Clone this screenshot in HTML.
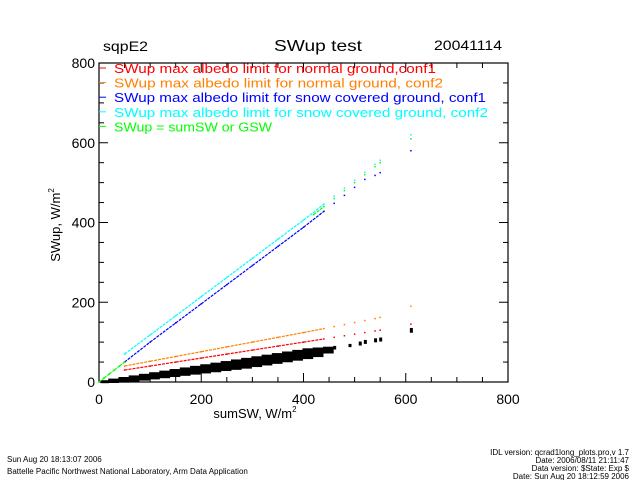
<!DOCTYPE html>
<html><head><meta charset="utf-8"><style>
html,body{margin:0;padding:0;background:#fff}
svg{display:block;font-family:"Liberation Sans",sans-serif}
</style></head><body>
<svg id="chart" width="640" height="480" viewBox="0 0 640 480">
<rect x="0" y="0" width="640" height="480" fill="#fff"/>
<text x="103" y="51" font-size="14" textLength="45" lengthAdjust="spacingAndGlyphs">sqpE2</text>
<text x="318" y="51" font-size="16" text-anchor="middle" textLength="88" lengthAdjust="spacingAndGlyphs">SWup test</text>
<text x="502" y="50" font-size="14" text-anchor="end" textLength="68" lengthAdjust="spacingAndGlyphs">20041114</text>
<g id="plot"></g>
<g id="legend"></g>
<text x="255" y="418" font-size="13" text-anchor="middle">sumSW, W/m<tspan font-size="8" dy="-6">2</tspan></text>
<text transform="translate(60,225) rotate(-90)" font-size="13" text-anchor="middle">SWup, W/m<tspan font-size="8" dy="-6">2</tspan></text>
<text x="7" y="462" font-size="8">Sun Aug 20 18:13:07 2006</text>
<text x="7" y="474" font-size="8">Battelle Pacific Northwest National Laboratory, Arm Data Application</text>
<g font-size="8" text-anchor="end">
<text x="629" y="455">IDL version: qcrad1long_plots.pro,v 1.7</text>
<text x="629" y="463">Date: 2006/08/11 21:11:47</text>
<text x="629" y="471">Data version: $State: Exp $</text>
<text x="629" y="479">Date: Sun Aug 20 18:12:59 2006</text>
</g>
</svg>
<script>
const xTicks=[0,200,400,600,800];
const yTicks=[0,200,400,600,800];
const lineX=[50,100,150,200,250,300,350,400,440,460,480,500,520,540,550,610];
const redY=[30,40,50,60,70,80,90,100,108,112,116,120,124,128,130,145];
const orangeY=[40,52,64,76,88,100,112,124,134,139,144,149,154,159,162,190];
const blueY=[50,100,148,196,244,292,340,388,428,448,468,488,508,518,525,580];
const cyanY=[70,118,166,214,262,310,358,406,446,466,486,506,526,546,556,620];
const greenX=[0,10,20,30,40,50,420,440,460,480,500,520,540,550,610];
const greenY=[0,10,20,30,40,50,420,440,460,480,500,520,540,550,610];
const blackX=[5,20,40,60,80,100,120,140,160,180,200,220,240,260,280,300,320,340,360,380,400,420,440,460,490,510,520,540,550,610];
const blackLo=[0,0,1,3,6,9,12,15,18,21,24,27,30,33,36,40,44,48,52,56,60,65,74,84,90,94,98,102,104,126];
const blackHi=[2,6,10,14,18,22,26,30,34,38,42,46,50,54,58,62,66,70,74,78,82,84,86,88,93,99,103,107,109,133];
const legendItems=["SWup max albedo limit for normal ground,conf1","SWup max albedo limit for normal ground, conf2","SWup max albedo limit for snow covered ground, conf1","SWup max albedo limit for snow covered ground, conf2","SWup = sumSW or GSW"];
const legendColors=["#ff0000","#ff8000","#0000ff","#00ffff","#00ff00"];
const legendLens=[322,329,372,374,158];
const NS="http://www.w3.org/2000/svg";
const X0=99,X1=508,Y0=382,Y1=63;
function sx(v){return X0+(v/800)*(X1-X0);}
function sy(v){return Y0-(v/800)*(Y0-Y1);}
const plot=document.getElementById('plot');
function mk(tag,attrs,parent){const e=document.createElementNS(NS,tag);for(const k in attrs)e.setAttribute(k,attrs[k]);parent.appendChild(e);return e;}
const frame=mk('rect',{x:X0,y:Y1,width:X1-X0,height:Y0-Y1,fill:'none',stroke:'#000','stroke-width':1.2},plot);


for(let v=0;v<=800;v+=50){
 const major=v%200===0,len=major?9:5;
 const x=sx(v),y=sy(v);
 mk('line',{x1:x,y1:Y0,x2:x,y2:Y0-len,stroke:'#000'},plot);
 mk('line',{x1:x,y1:Y1,x2:x,y2:Y1+len,stroke:'#000'},plot);
 mk('line',{x1:X0,y1:y,x2:X0+len,y2:y,stroke:'#000'},plot);
 mk('line',{x1:X1,y1:y,x2:X1-len,y2:y,stroke:'#000'},plot);
}
xTicks.forEach(v=>{const t=mk('text',{x:sx(v),y:Y0+22,'font-size':14,'text-anchor':'middle'},plot);t.textContent=v;

});
yTicks.forEach(v=>{const t=mk('text',{x:X0-4,y:sy(v)+5,'font-size':14,'text-anchor':'end'},plot);t.textContent=v;

});
const bg=mk('g',{},plot);


for(let i=0;i<blackX.length;i++){
 const x=sx(blackX[i]),ya=sy(blackHi[i]),yb=sy(blackLo[i]);
 const dense=blackX[i]<450;
 const w=dense?(sx(blackX[Math.min(i+1,blackX.length-1)])-x+0.5):3;
 mk('rect',{x:x-1,y:ya-1,width:w,height:Math.max(yb-ya+2,3),fill:'#000'},bg);
}
function series(xs,ys,color,name){
 const g=mk('g',{},plot);
 
 
 for(let i=0;i<xs.length-1;i++){
  const gap=xs[i+1]-xs[i];
  if(gap<=50 && xs[i]<440) mk('line',{x1:sx(xs[i]),y1:sy(ys[i]),x2:sx(xs[i+1]),y2:sy(ys[i+1]),stroke:color,'stroke-width':1.2,'stroke-dasharray':'3 1'},g);
 }
 for(let i=0;i<xs.length;i++) mk('rect',{x:sx(xs[i])-0.75,y:sy(ys[i])-0.75,width:1.5,height:1.5,fill:color},g);
}
series(lineX,redY,'#ff0000','red-normal-conf1-line');
series(lineX,orangeY,'#ff8000','orange-normal-conf2-line');
series(lineX,blueY,'#0000ff','blue-snow-conf1-line');
series(lineX,cyanY,'#00ffff','cyan-snow-conf2-line');
series(greenX,greenY,'#00ff00','green-sumsw-line');
const lg=document.getElementById('legend');
legendItems.forEach((s,i)=>{
 const y=68+i*14.6;
 const l=mk('line',{x1:99,y1:y,x2:106,y2:y,stroke:legendColors[i]},lg);
 
 
 const t=mk('text',{x:114,y:y+5,'font-size':13,fill:legendColors[i],textLength:legendLens[i],lengthAdjust:'spacingAndGlyphs'},lg);
 t.textContent=s;
 
 
});
</script>
</body></html>
